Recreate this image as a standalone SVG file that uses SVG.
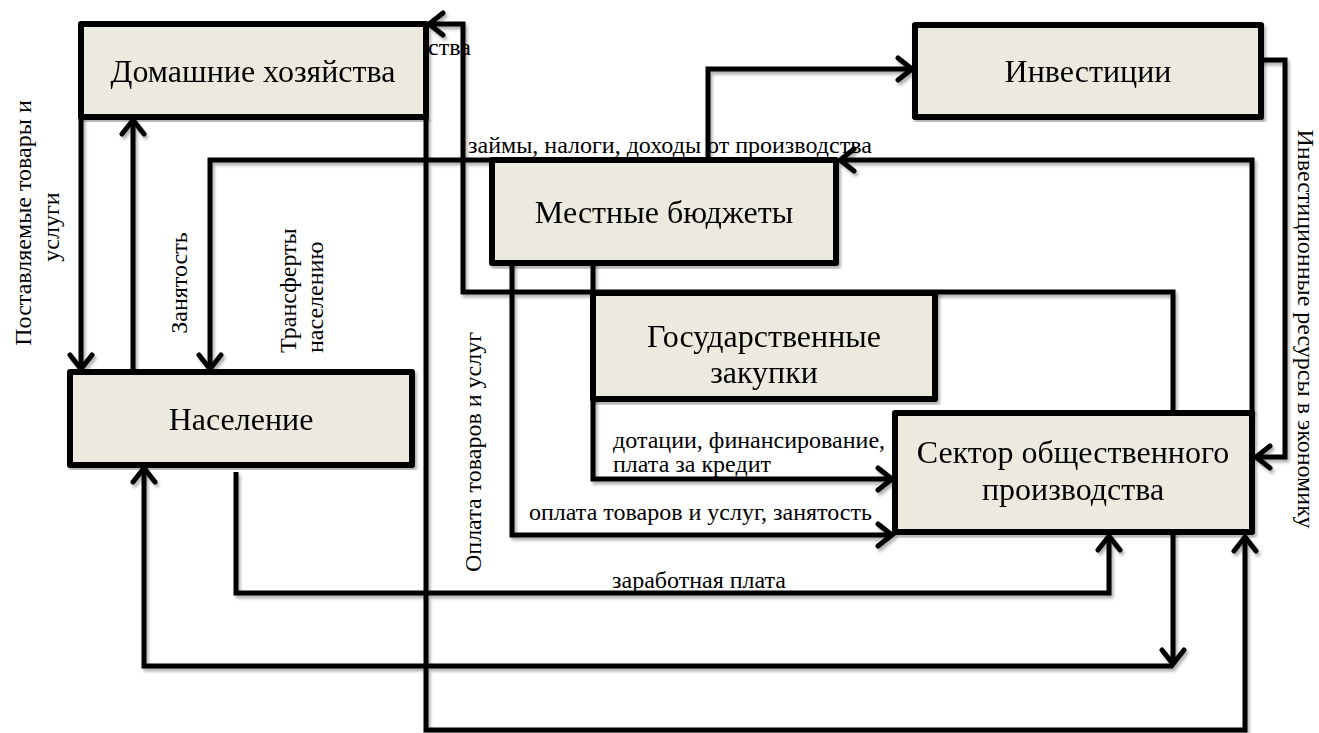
<svg xmlns="http://www.w3.org/2000/svg" width="1319" height="733" viewBox="0 0 1319 733">
<style>
.box{fill:#ECE9DF;stroke:#000;stroke-width:6;stroke-linejoin:round}
.ln{fill:none;stroke:#000;stroke-width:5;stroke-linejoin:miter}
.bt{font-size:32px;fill:#000;text-anchor:middle}
.lb{font-size:24px;fill:#000}
.mid{text-anchor:middle}
</style>
<defs>
<filter id="sh" x="-5%" y="-5%" width="110%" height="110%">
<feDropShadow dx="2" dy="3" stdDeviation="1.5" flood-color="#000" flood-opacity="0.3"/>
</filter>
<marker id="arr" viewBox="-18 -14 22 28" refX="0" refY="0" markerWidth="22" markerHeight="28" markerUnits="userSpaceOnUse" orient="auto">
<path d="M-14,-11 L0,0 L-14,11" fill="none" stroke="#000" stroke-width="5" stroke-linecap="round" stroke-linejoin="miter"/>
</marker>
</defs>
<rect width="1319" height="733" fill="#fff"/>
<g id="connectors" filter="url(#sh)">
<path class="ln" d="M1173,413 V292 H463 V24 H429" marker-end="url(#arr)"/>
<path class="ln" d="M426,117 V730 H1245 V537" marker-end="url(#arr)"/>
<path class="ln" d="M708,160 V69 H912" marker-end="url(#arr)"/>
<path class="ln" d="M1261,60 H1285 V457 H1256" marker-end="url(#arr)"/>
<path class="ln" d="M1252,413 V160 H840" marker-end="url(#arr)"/>
<path class="ln" d="M492,160 H210 V369" marker-end="url(#arr)"/>
<path class="ln" d="M81,117 V369" marker-end="url(#arr)"/>
<path class="ln" d="M133,372 V120" marker-end="url(#arr)"/>
<path class="ln" d="M236,472 V593 H1109 V536" marker-end="url(#arr)"/>
<path class="ln" d="M1173,532 V664" marker-end="url(#arr)"/>
<path class="ln" d="M1173,666 H144 V468" marker-end="url(#arr)"/>
<path class="ln" d="M512,263 V535 H892" marker-end="url(#arr)"/>
<path class="ln" d="M593,263 V479 H892" marker-end="url(#arr)"/>
</g>
<g font-family="'Liberation Serif', 'DejaVu Serif', serif">
<g id="n-domhoz" filter="url(#sh)">
<rect class="box" x="81" y="24" width="345" height="93"/>
<text class="bt" x="253" y="82">Домашние хозяйства</text>
</g>
<g id="n-invest" filter="url(#sh)">
<rect class="box" x="915" y="25" width="346" height="92"/>
<text class="bt" x="1088" y="82">Инвестиции</text>
</g>
<g id="n-budget" filter="url(#sh)">
<rect class="box" x="492" y="160" width="344" height="103"/>
<text class="bt" x="664" y="223">Местные бюджеты</text>
</g>
<g id="n-zakupki" filter="url(#sh)">
<rect class="box" x="593" y="293" width="342" height="106"/>
<text class="bt" x="764" y="347">Государственные</text>
<text class="bt" x="764" y="383">закупки</text>
</g>
<g id="n-naselenie" filter="url(#sh)">
<rect class="box" x="70" y="372" width="342" height="93"/>
<text class="bt" x="241" y="430">Население</text>
</g>
<g id="n-sektor" filter="url(#sh)">
<rect class="box" x="895" y="413" width="357" height="119"/>
<text class="bt" x="1073" y="463">Сектор общественного</text>
<text class="bt" x="1073" y="500">производства</text>
</g>
<g id="labels">
<text class="lb" x="428" y="55">ства</text>
<text class="lb" x="468" y="153">займы, налоги, доходы от производства</text>
<text class="lb" x="613" y="448">дотации, финансирование,</text>
<text class="lb" x="613" y="472">плата за кредит</text>
<text class="lb" x="529" y="520">оплата товаров и услуг, занятость</text>
<text class="lb" x="612" y="588">заработная плата</text>
<text class="lb mid" transform="translate(31,223) rotate(-90)">Поставляемые товары и</text>
<text class="lb mid" transform="translate(59,227) rotate(-90)">услуги</text>
<text class="lb mid" transform="translate(187,283) rotate(-90)">Занятость</text>
<text class="lb" transform="translate(296,353) rotate(-90)">Трансферты</text>
<text class="lb" transform="translate(323,353) rotate(-90)">населению</text>
<text class="lb mid" transform="translate(481,452) rotate(-90)">Оплата товаров и услуг</text>
<text class="lb mid" transform="translate(1298,329) rotate(90)">Инвестиционные ресурсы в экономику</text>
</g>
</g>
</svg>
